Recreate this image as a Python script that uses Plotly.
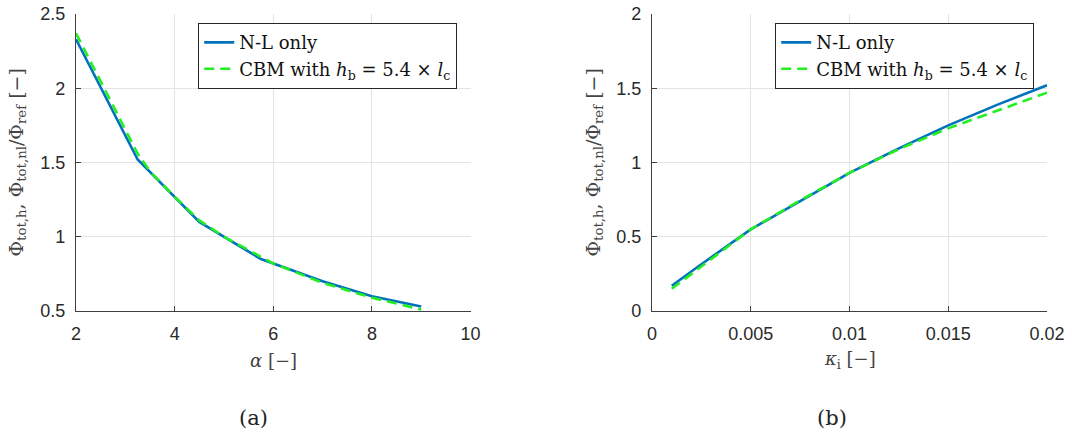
import plotly.graph_objects as go

# ---- data ----
alpha_nl = [2, 3.25, 4.5, 5.75, 7, 8, 9]
phi_nl_a = [2.33, 1.52, 1.10, 0.85, 0.70, 0.60, 0.53]
alpha_cbm = [2, 2.5, 3, 3.25, 3.5, 4, 4.5, 5, 5.5, 6, 6.5, 7, 7.5, 8, 8.5, 9]
phi_cbm_a = [2.37, 2.05, 1.72, 1.56, 1.44, 1.27, 1.11, 1.00, 0.91, 0.82, 0.755, 0.69, 0.64, 0.59, 0.55, 0.51]

kappa = [0.001, 0.0025, 0.005, 0.0075, 0.01, 0.0125, 0.015, 0.0175, 0.02]
phi_nl_b = [0.17, 0.315, 0.55, 0.74, 0.93, 1.095, 1.25, 1.39, 1.52]
phi_cbm_b = [0.15, 0.30, 0.55, 0.745, 0.93, 1.09, 1.23, 1.35, 1.47]

xticks_a = [2, 4, 6, 8, 10]
yticks_a = [0.5, 1, 1.5, 2, 2.5]
xticks_b = [0, 0.005, 0.01, 0.015, 0.02]
xticktext_b = ["0", "0.005", "0.01", "0.015", "0.02"]
yticks_b = [0, 0.5, 1, 1.5, 2]
yticktext_b = ["0", "0.5", "1", "1.5", "2"]

name_nl = "N-L only"
name_cbm = "CBM with <i>h</i><sub>b</sub> = 5.4 × <i>l</i><sub>c</sub>"
ytitle = "Φ<sub>tot,h</sub>, Φ<sub>tot,nl</sub>/Φ<sub>ref</sub> [−]"

BLUE = "#0072BD"
GREEN = "#22ee22"
SERIF = "DejaVu Serif"
SANS = "Liberation Sans"
W, H = 1072, 439

fig = go.Figure()
fig.add_trace(go.Scatter(x=alpha_nl, y=phi_nl_a, mode="lines", name=name_nl,
                         line=dict(color=BLUE, width=2.6), xaxis="x", yaxis="y", legend="legend"))
fig.add_trace(go.Scatter(x=alpha_cbm, y=phi_cbm_a, mode="lines", name=name_cbm,
                         line=dict(color=GREEN, width=2.6, dash="10px,6px"), xaxis="x", yaxis="y", legend="legend"))
fig.add_trace(go.Scatter(x=kappa, y=phi_nl_b, mode="lines", name=name_nl,
                         line=dict(color=BLUE, width=2.6), xaxis="x2", yaxis="y2", legend="legend2"))
fig.add_trace(go.Scatter(x=kappa, y=phi_cbm_b, mode="lines", name=name_cbm,
                         line=dict(color=GREEN, width=2.6, dash="10px,6px"), xaxis="x2", yaxis="y2", legend="legend2"))

def px_x(p):
    return p / W

def px_y(p):
    return 1 - p / H

dom_a = [px_x(76), px_x(470.5)]
dom_b = [px_x(652), px_x(1047)]
dom_y = [px_y(311), px_y(14)]

axis_common = dict(showline=True, linecolor="#404040", linewidth=1.4,
                   ticks="inside", ticklen=5, tickcolor="#404040", tickwidth=1,
                   showgrid=True, gridcolor="#e3e3e3", gridwidth=1, zeroline=False,
                   tickfont=dict(family=SANS, size=18, color="#2a2a2a"),
                   automargin=False, fixedrange=True)

legend_common = dict(xanchor="right", yanchor="top",
                     bordercolor="#262626", borderwidth=1.2, bgcolor="white",
                     font=dict(family=SERIF, size=18, color="#111111"),
                     itemwidth=30, tracegroupgap=0)

fig.update_layout(
    width=W, height=H, margin=dict(l=0, r=0, t=0, b=0),
    paper_bgcolor="white", plot_bgcolor="white",
    xaxis=dict(domain=dom_a, range=[2, 10], tickvals=xticks_a, anchor="y",
               ticklabelstandoff=6, **axis_common),
    yaxis=dict(domain=dom_y, range=[0.5, 2.5], tickvals=yticks_a, anchor="x",
               ticklabelstandoff=6, **axis_common),
    xaxis2=dict(domain=dom_b, range=[0, 0.02], tickvals=xticks_b, ticktext=xticktext_b,
                anchor="y2", ticklabelstandoff=6, **axis_common),
    yaxis2=dict(domain=dom_y, range=[0, 2], tickvals=yticks_b, ticktext=yticktext_b,
                anchor="x2", ticklabelstandoff=6, **axis_common),
    legend=dict(x=px_x(457), y=px_y(23), **legend_common),
    legend2=dict(x=px_x(1034), y=px_y(23), **legend_common),
    showlegend=True,
)

ann_font = dict(family=SERIF, size=18, color="#444444")
anns = [
    dict(text="<i>α</i> [−]", x=px_x(273), y=px_y(360)),
    dict(text="<i>κ</i><sub>i</sub> [−]", x=px_x(849.5), y=px_y(360)),
    dict(text=ytitle, x=px_x(17), y=px_y(162.5), textangle=-90,
         font=dict(family=SERIF, size=19, color="#444444")),
    dict(text=ytitle, x=px_x(594), y=px_y(162.5), textangle=-90,
         font=dict(family=SERIF, size=19, color="#444444")),
    dict(text="(a)", x=px_x(253), y=px_y(418), font=dict(family=SERIF, size=21, color="#222222")),
    dict(text="(b)", x=px_x(832), y=px_y(418), font=dict(family=SERIF, size=21, color="#222222")),
]
for a in anns:
    a.setdefault("font", ann_font)
    fig.add_annotation(xref="paper", yref="paper", showarrow=False,
                       xanchor="center", yanchor="middle", **a)

fig.write_html("out.html")
